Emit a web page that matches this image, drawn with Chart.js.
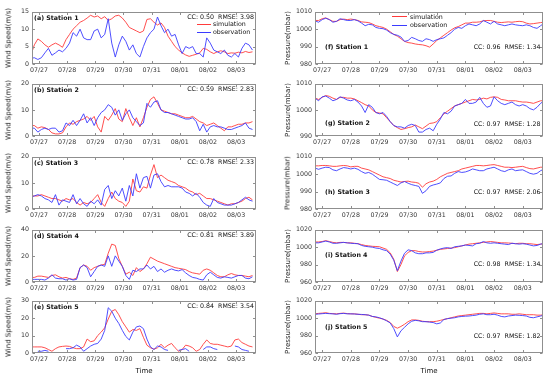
<!DOCTYPE html>
<html><head><meta charset="utf-8">
<script src="https://cdn.jsdelivr.net/npm/chart.js@4/dist/chart.umd.min.js"></script>
<style>
html,body{margin:0;padding:0;background:#fff;}
#wrap{position:relative;width:550px;height:378px;overflow:hidden;font-family:"DejaVu Sans",sans-serif;}
canvas{position:absolute;}
.t{position:absolute;white-space:pre;color:#111;font-size:6.3px;line-height:1;}
.b{font-weight:bold;}
.yt{position:absolute;white-space:pre;color:#222;font-size:7px;line-height:1;transform:translate(-50%,-50%) rotate(-90deg);}
.lg{position:absolute;height:0;border-top:1px solid;}
</style></head>
<body><div id="wrap"></div>
<script>
// ---------- data ----------
const dayHours = [0,24,48,72,96,120,144,168];
const dayLabels = ['07/27','07/28','07/29','07/30','07/31','08/01','08/02','08/03'];
// hours after 07/27 00:00
const timesL = [-7,-4,-1,2,5,8,11,14,17,20,23,26,29,32,35,38,41,44,47,50,53,56,59,62,65,68,71,74,77,80,83,86,89,92,95,98,101,104,107,110,113,116,119,122,125,128,131,134,137,140,143,146,149,152,155,158,161,164,167,170,173,176,179,182];
const timesR = [-6,-3,0,3,6,9,12,15,18,21,24,27,30,33,36,39,42,45,48,51,54,57,60,63,66,69,72,75,78,81,84,87,90,93,96,99,102,105,108,111,114,117,120,123,126,129,132,135,138,141,144,147,150,153,156,159,162,165,168,171,174,177,180,183,186];

// wind speed (m/s)
const simA = [2.5,5.5,7.2,6.5,5.5,4.8,5.5,6.0,5.5,4.8,7.0,8.5,10.0,11.0,12.0,12.5,13.2,14.0,13.5,13.8,13.0,13.6,12.5,13.0,13.8,14.0,13.2,12.0,10.5,10.0,9.5,9.0,9.5,12.8,13.0,12.0,11.2,11.8,10.5,8.0,6.5,5.0,4.0,3.2,2.6,2.2,2.5,2.8,3.2,4.5,4.2,3.5,3.0,3.5,3.8,3.5,3.0,3.2,3.1,3.4,3.2,3.6,3.3,3.5];
const obsA = [1.6,1.8,1.3,1.8,3.2,4.5,2.5,3.2,4.0,3.5,4.5,6.0,9.0,8.0,10.0,7.5,7.0,7.0,9.5,10.0,7.5,8.5,13.0,6.0,2.0,5.5,8.0,6.5,4.0,5.5,3.0,2.0,5.0,7.5,9.0,10.0,13.5,11.0,9.0,10.0,8.0,8.5,5.5,3.0,5.0,4.5,5.0,3.0,3.0,2.0,7.5,6.0,4.0,3.5,3.0,4.0,2.5,2.0,3.0,2.0,4.5,6.0,5.5,4.0];
const simB = [4.0,4.0,3.0,3.5,3.2,2.5,1.2,0.8,0.8,1.2,3.5,5.0,4.5,5.5,6.0,6.5,7.5,6.0,7.5,3.5,1.5,7.5,6.0,8.0,10.5,6.5,5.5,10.5,7.0,4.0,7.0,3.5,7.0,11.0,14.0,15.0,12.5,10.0,9.5,9.0,8.5,8.5,8.0,7.5,7.0,7.0,7.5,6.5,5.5,5.0,4.0,4.5,5.0,4.0,3.0,2.0,3.5,3.5,4.0,4.5,4.5,5.0,5.0,5.5];
const obsB = [3.0,3.0,1.5,2.5,3.0,2.5,3.0,3.0,1.5,2.0,5.0,4.0,6.0,4.0,6.0,8.5,5.0,7.0,4.0,7.0,9.0,10.0,12.0,11.0,8.0,10.0,6.0,8.5,10.0,7.0,5.5,4.0,5.0,12.5,11.0,13.0,13.5,10.0,9.0,9.0,8.5,8.0,7.5,7.0,6.5,6.5,7.0,5.5,2.0,4.5,1.5,3.5,4.0,3.5,3.5,3.0,2.5,2.5,3.0,3.5,4.0,5.0,3.0,2.5];
const simC = [5.0,5.0,5.0,5.5,5.0,4.5,4.0,4.0,3.5,3.0,4.0,3.5,4.0,2.5,1.5,2.5,2.0,2.5,4.0,5.5,2.5,1.0,4.0,6.5,4.0,3.0,2.5,1.0,3.0,11.5,7.0,6.5,8.5,8.0,13.0,17.0,12.0,13.0,12.0,11.0,10.5,10.0,9.0,8.5,8.0,7.0,6.5,5.5,6.0,5.0,4.0,4.0,3.5,3.0,2.5,2.0,1.5,2.0,2.0,2.5,3.0,4.0,4.5,3.5];
const obsC = [4.5,5.0,5.5,5.0,4.0,3.5,2.5,5.5,1.5,3.5,3.0,2.5,5.5,2.0,4.0,2.0,1.0,3.0,2.0,3.5,1.5,7.5,9.0,4.0,7.0,5.0,8.0,3.0,9.0,5.0,13.5,8.0,12.0,12.5,8.0,13.0,13.5,10.5,8.5,9.0,8.5,8.5,8.5,8.0,6.5,6.0,5.0,6.0,4.5,2.5,1.5,1.0,4.0,2.5,2.0,1.5,1.5,1.5,2.0,2.5,3.5,4.5,3.5,3.0];
const simD = [3.5,3.5,4.5,4.5,4.0,3.5,5.0,5.5,4.0,3.0,3.5,2.5,2.0,3.0,11.0,13.0,12.0,9.0,11.0,12.0,13.0,13.5,22.0,29.0,28.0,18.0,12.0,6.0,7.5,5.0,11.0,8.0,10.0,14.0,19.0,17.5,16.0,15.0,14.0,13.0,12.0,11.0,10.5,10.0,9.5,8.0,7.0,6.5,6.0,9.0,10.0,9.0,7.0,5.0,4.0,4.0,5.5,6.5,5.5,5.0,5.0,4.5,4.0,5.0];
const obsD = [2.0,2.0,2.0,2.0,1.5,3.0,5.5,3.0,2.5,2.5,1.5,2.5,1.5,2.0,11.0,13.0,11.0,4.0,8.0,12.0,13.0,12.0,20.0,12.0,20.0,16.0,12.0,5.0,2.0,9.0,8.0,10.0,10.0,13.0,10.0,12.0,8.0,10.0,7.5,9.0,10.0,9.0,8.5,9.5,7.0,5.0,3.5,3.0,2.0,1.5,5.5,7.5,5.5,3.5,3.0,4.0,3.5,3.0,4.0,5.0,5.0,3.0,2.5,4.0];
const simE = [3.5,3.5,3.5,3.5,3.0,2.0,1.0,2.5,3.5,3.8,4.0,3.8,3.0,2.5,2.5,3.5,8.0,6.5,7.0,10.0,12.0,14.5,19.5,24.0,25.0,22.0,18.0,15.0,12.0,13.5,13.0,14.0,9.0,4.5,3.0,2.2,3.0,5.0,3.0,4.5,5.5,3.0,1.0,2.0,4.5,4.0,3.0,1.0,2.0,5.0,7.5,5.5,5.0,5.0,4.5,4.0,3.5,4.0,7.5,8.0,6.0,5.0,4.0,3.5];
const obsE = [null,null,1.0,1.0,1.5,1.0,null,null,null,null,2.5,2.5,3.0,4.5,3.5,1.0,2.5,4.0,5.0,5.5,8.0,13.0,26.0,24.0,20.0,17.0,13.0,9.5,7.5,12.0,15.0,15.5,14.0,8.0,3.5,2.0,4.0,3.5,2.0,1.5,null,null,1.5,2.0,2.5,1.0,null,null,null,2.0,3.5,3.5,2.5,2.0,null,null,null,null,4.0,3.5,2.0,1.5,1.0,null];

// pressure (mbar)
const simF = [1005.0,1005.0,1006.0,1006.5,1005.5,1004.5,1004.5,1005.5,1005.8,1005.5,1005.8,1005.5,1005.0,1004.2,1004.0,1003.8,1003.0,1002.0,1001.5,1001.0,1000.0,998.5,997.0,996.0,994.5,993.0,992.3,992.0,991.5,991.2,991.0,990.5,989.7,991.5,993.5,995.0,996.5,998.0,999.5,1000.8,1001.5,1002.5,1003.5,1003.5,1004.0,1004.0,1004.2,1004.8,1005.0,1005.0,1004.5,1004.0,1003.8,1004.0,1004.2,1004.0,1004.3,1004.5,1004.3,1003.5,1003.0,1003.2,1003.5,1003.8,1004.0];
const obsF = [1004.8,1004.0,1005.5,1006.3,1005.5,1004.0,1004.5,1006.0,1005.5,1005.0,1005.0,1005.5,1004.8,1003.5,1002.0,1002.8,1002.5,1001.0,1000.5,1000.3,999.5,998.0,997.0,996.5,995.5,993.0,993.5,995.3,994.5,993.5,993.0,994.5,994.0,993.0,994.0,994.5,995.0,996.5,998.0,1000.0,1001.0,1000.5,1002.0,1003.0,1002.5,1002.0,1003.0,1005.0,1004.0,1003.0,1004.5,1003.0,1002.5,1002.0,1002.5,1003.0,1002.5,1002.2,1002.0,1002.5,1002.0,1001.0,1000.5,1002.0,1003.5];
const simG = [1004.5,1004.0,1004.8,1005.5,1005.2,1004.5,1004.0,1004.8,1004.8,1004.5,1004.5,1004.2,1003.5,1002.8,1002.0,1001.5,1000.0,999.0,998.8,998.5,997.0,995.5,994.0,993.2,992.5,992.8,993.2,993.5,994.2,993.5,992.8,993.8,994.8,995.0,995.5,997.0,998.5,999.5,1000.5,1001.5,1002.0,1002.5,1003.0,1003.5,1004.0,1003.8,1004.0,1004.5,1004.2,1004.8,1005.0,1004.8,1004.0,1003.8,1003.5,1003.5,1003.5,1003.2,1003.0,1003.0,1002.8,1002.5,1003.0,1003.5,1003.5];
const obsG = [1004.5,1003.5,1005.0,1005.3,1004.5,1003.5,1004.0,1005.0,1004.5,1003.8,1003.5,1004.0,1003.0,1001.5,999.0,1002.0,1001.0,999.0,998.5,999.0,997.5,995.5,994.0,993.5,993.5,993.0,994.0,994.5,994.0,991.5,991.5,992.5,993.0,992.0,994.5,996.5,999.0,998.5,999.5,1001.5,1002.0,1002.5,1004.0,1002.5,1002.5,1003.0,1004.8,1002.5,1001.0,1001.5,1005.0,1003.5,1002.5,1002.0,1002.5,1003.0,1002.0,1001.5,1002.0,1001.5,1000.5,1000.0,1001.0,1002.5,1003.5];
const simH = [1004.8,1004.8,1005.0,1005.0,1004.8,1004.5,1004.5,1004.8,1005.0,1004.8,1004.2,1004.5,1004.5,1003.5,1003.0,1002.5,1001.5,1000.5,999.5,998.5,998.0,997.5,996.5,996.0,995.5,995.8,996.0,995.5,995.3,994.8,992.5,994.5,995.5,996.0,997.0,998.5,999.5,1000.5,1001.0,1001.5,1002.0,1003.0,1003.5,1004.0,1004.5,1005.0,1005.0,1004.8,1005.0,1005.3,1005.5,1005.0,1004.5,1004.0,1004.0,1003.8,1004.0,1004.3,1004.5,1003.8,1003.2,1003.0,1003.5,1004.0,1004.0];
const obsH = [1003.5,1002.8,1003.5,1004.0,1003.8,1002.5,1002.0,1003.0,1003.8,1003.5,1003.0,1003.5,1002.8,1001.5,1000.5,1001.0,1000.0,998.5,997.0,996.8,996.5,995.5,994.5,993.5,995.0,995.8,994.8,994.0,993.5,993.0,989.0,990.5,993.0,993.8,994.3,995.0,997.5,998.8,999.0,1000.5,1001.5,1001.0,1001.3,1002.0,1003.0,1002.5,1002.0,1002.0,1003.0,1003.5,1004.0,1003.0,1002.0,1001.5,1002.5,1003.0,1002.0,1002.3,1002.5,1001.5,1000.5,1000.0,1000.5,1002.0,1003.0];
const simI = [1006.0,1006.0,1006.5,1007.5,1006.5,1005.5,1005.0,1005.5,1005.5,1005.0,1005.0,1004.5,1004.0,1003.0,1002.0,1001.5,1001.0,1000.8,1000.5,999.0,997.5,993.5,986.0,972.0,980.0,990.0,994.0,996.0,996.0,995.0,994.5,994.5,995.0,995.5,996.5,997.5,998.0,998.5,999.0,999.5,1000.5,1001.5,1002.5,1003.5,1004.0,1004.5,1005.0,1005.5,1006.0,1006.5,1006.0,1005.5,1005.0,1005.0,1004.8,1004.5,1004.0,1004.5,1004.5,1004.0,1004.0,1003.5,1003.0,1003.5,1004.0];
const obsI = [1005.0,1005.0,1006.0,1007.0,1006.0,1004.5,1004.5,1005.0,1005.5,1005.0,1004.5,1004.2,1004.0,1002.0,1001.0,1000.5,1000.0,999.0,998.5,997.0,996.0,992.0,985.0,973.0,984.0,993.0,997.0,996.0,993.5,992.5,992.5,993.5,993.5,994.0,996.5,998.0,999.0,999.5,998.5,1000.5,1001.0,1001.5,1002.5,1002.0,1001.5,1004.0,1004.5,1006.5,1005.0,1004.5,1005.0,1004.5,1004.0,1003.5,1003.0,1004.5,1004.0,1003.5,1004.0,1003.5,1002.5,1001.5,1002.0,1003.5,1004.5];
const simJ = [1005.0,1005.5,1005.8,1006.3,1005.5,1005.2,1005.0,1005.5,1005.8,1005.3,1005.0,1005.0,1004.5,1004.0,1004.0,1003.5,1002.0,1001.0,1000.0,999.0,997.5,995.0,990.5,988.5,990.5,993.0,996.0,998.0,998.0,997.5,996.5,996.0,996.0,996.0,996.5,997.5,998.5,999.5,1000.5,1001.5,1002.5,1003.0,1003.5,1004.0,1004.5,1005.0,1005.5,1005.5,1005.0,1005.5,1006.0,1005.5,1005.0,1005.0,1005.0,1004.5,1004.5,1005.0,1004.5,1004.0,1004.0,1004.0,1003.5,1003.5,1004.0];
const obsJ = [1004.5,1004.8,1005.2,1005.5,1005.2,1005.0,1004.5,1005.2,1005.5,1005.0,1005.0,1004.8,1004.5,1004.3,1004.0,1003.5,1002.0,1001.5,1000.5,999.0,997.0,994.5,988.0,978.5,985.5,989.5,993.5,996.5,997.5,997.0,996.0,996.0,995.5,995.0,993.5,994.5,998.5,999.5,1000.0,1000.5,1001.5,1002.0,1002.3,1002.5,1003.0,1003.5,1004.5,1005.0,1004.0,1004.0,1004.5,1003.5,1002.0,1001.5,1002.5,1003.0,1003.5,1003.3,1003.0,1002.5,1001.0,1000.5,1001.5,1002.5,1003.5];

const windTicks = [[0,5,10,15],[0,10,20],[0,10,20],[0,20,40],[0,10,20,30]];
const presTicks = [[980,990,1000,1010],[990,1000,1010],[980,990,1000,1010],[960,980,1000,1020],[960,980,1000,1020]];
const windSim = [simA,simB,simC,simD,simE];
const windObs = [obsA,obsB,obsC,obsD,obsE];
const presSim = [simF,simG,simH,simI,simJ];
const presObs = [obsF,obsG,obsH,obsI,obsJ];
const namesL = ['(a) Station 1','(b) Station 2','(c) Station 3','(d) Station 4','(e) Station 5'];
const namesR = ['(f) Station 1','(g) Station 2','(h) Station 3','(i) Station 4','(j) Station 5'];
const statsL = ['CC: 0.50  RMSE: 3.98','CC: 0.59  RMSE: 2.83','CC: 0.78  RMSE: 2.33','CC: 0.81  RMSE: 3.89','CC: 0.84  RMSE: 3.54'];
const statsR = ['CC: 0.96  RMSE: 1.34','CC: 0.97  RMSE: 1.28','CC: 0.97  RMSE: 2.06','CC: 0.98  RMSE: 1.34','CC: 0.97  RMSE: 1.82'];
const seriesNames = ['simulation','observation'];

// ---------- layout ----------
const SIM_COLOR = '#ff3b3b', OBS_COLOR = '#3b3bff';
const FONT = '"DejaVu Sans", sans-serif';
const TOPS = [11,83,156,229,300];
const H = 53, PT = 6, XH = 14;
const SIDES = {
  L:{x0:0, w:262, yw:32, padR:6, tmin:-6, tmax:185},
  R:{x0:275, w:274, yw:40, padR:6, tmin:-6, tmax:185}
};
const wrap = document.getElementById('wrap');

const framePlugin = {
  id:'frame',
  afterDatasetsDraw(chart){
    const {ctx, chartArea:a, scales} = chart;
    ctx.save();
    ctx.strokeStyle = '#8f8f8f'; ctx.lineWidth = 1;
    const L=Math.round(a.left)+0.5, R=Math.round(a.right)-0.5, T=Math.round(a.top)+0.5, B=Math.round(a.bottom)-0.5;
    ctx.strokeRect(L,T,R-L,B-T);
    ctx.beginPath();
    scales.x.ticks.forEach(t=>{const x=Math.round(scales.x.getPixelForValue(t.value))+0.5;
      ctx.moveTo(x,B); ctx.lineTo(x,B-2.5); ctx.moveTo(x,T); ctx.lineTo(x,T+2.5);});
    scales.y.ticks.forEach(t=>{const y=Math.round(scales.y.getPixelForValue(t.value))+0.5;
      ctx.moveTo(L,y); ctx.lineTo(L+2.5,y); ctx.moveTo(R,y); ctx.lineTo(R-2.5,y);});
    ctx.stroke(); ctx.restore();
  }
};

function addText(txt, x, y, cls, align){
  const d = document.createElement('div');
  d.className = 't ' + (cls||'');
  d.textContent = txt;
  d.style.left = x + 'px'; d.style.top = y + 'px';
  d.style.transform = align==='right' ? 'translate(-100%,-50%)' : (align==='center' ? 'translate(-50%,-50%)' : 'translateY(-50%)');
  wrap.appendChild(d);
}
function addYTitle(txt, x, y){
  const d = document.createElement('div');
  d.className = 'yt'; d.textContent = txt;
  d.style.left = x+'px'; d.style.top = y+'px';
  wrap.appendChild(d);
}
function addLegend(x1, x2, y, txtX){
  [SIM_COLOR, OBS_COLOR].forEach((c,i)=>{
    const yy = y + i*8.3;
    const l = document.createElement('div');
    l.className='lg'; l.style.borderColor=c;
    l.style.left=x1+'px'; l.style.width=(x2-x1)+'px'; l.style.top=(yy-0.5)+'px';
    wrap.appendChild(l);
    addText(seriesNames[i], txtX, yy, '', 'left');
  });
}

function makePanel(side, k, times, sim, obs, yTicks){
  const S = SIDES[side];
  const top = TOPS[k] - PT;
  const hgt = PT + H + XH;
  const cv = document.createElement('canvas');
  cv.width = S.w; cv.height = hgt;
  cv.style.left = S.x0+'px'; cv.style.top = top+'px';
  cv.style.width = S.w+'px'; cv.style.height = hgt+'px';
  wrap.appendChild(cv);
  const mk = (arr)=> times.map((t,i)=>({x:t, y:arr[i]}));
  new Chart(cv.getContext('2d'), {
    type:'line',
    data:{datasets:[
      {label:seriesNames[1], data:mk(obs), borderColor:OBS_COLOR, borderWidth:0.9, pointRadius:0, tension:0, spanGaps:false},
      {label:seriesNames[0], data:mk(sim), borderColor:SIM_COLOR, borderWidth:0.9, pointRadius:0, tension:0, spanGaps:false}
    ]},
    options:{
      responsive:false, animation:false, devicePixelRatio:1,
      layout:{padding:{top:PT, right:S.padR, left:0, bottom:0}},
      plugins:{legend:{display:false}, tooltip:{enabled:false}},
      scales:{
        x:{type:'linear', min:S.tmin, max:S.tmax,
          afterBuildTicks:(s)=>{s.ticks = dayHours.map(v=>({value:v}));},
          afterFit:(s)=>{s.height = XH;},
          grid:{display:false, drawTicks:false}, border:{display:false},
          ticks:{autoSkip:false, maxRotation:0, padding:3, color:'#333', font:{size:6.3, family:FONT},
            callback:(v)=>dayLabels[dayHours.indexOf(v)]}
        },
        y:{type:'linear', min:yTicks[0], max:yTicks[yTicks.length-1],
          afterBuildTicks:(s)=>{s.ticks = yTicks.map(v=>({value:v}));},
          afterFit:(s)=>{s.width = S.yw;},
          grid:{display:false, drawTicks:false}, border:{display:false},
          ticks:{padding:3, color:'#333', font:{size:6.3, family:FONT}, callback:(v)=>String(v)}
        }
      }
    },
    plugins:[framePlugin]
  });
}

const labRelR = [36,40,36,26,27];
const ccRelR = [36,41,36,35,36];
for(let k=0;k<5;k++){
  makePanel('L', k, timesL, windSim[k], windObs[k], windTicks[k]);
  makePanel('R', k, timesR, presSim[k], presObs[k], presTicks[k]);
  const T = TOPS[k];
  addText(namesL[k], 34, T+6.5, 'b', 'left');
  addText(statsL[k], 254, T+5.5, '', 'right');
  addYTitle('Wind Speed(m/s)', 9, T+H/2);
  addText(namesR[k], 325, T+labRelR[k], 'b', 'left');
  addText(statsR[k], 540.5, T+ccRelR[k], '', 'right');
  addYTitle('Pressure(mbar)', 288, T+H/2);
}
addLegend(197, 211, 24, 213);
addLegend(392, 407, 16.7, 410);
const tl = document.createElement('div'); tl.className='t'; tl.style.fontSize='7px';
tl.textContent='Time'; tl.style.left='144px'; tl.style.top='371px'; tl.style.transform='translate(-50%,-50%)'; wrap.appendChild(tl);
const tr = document.createElement('div'); tr.className='t'; tr.style.fontSize='7px';
tr.textContent='Time'; tr.style.left='429px'; tr.style.top='371px'; tr.style.transform='translate(-50%,-50%)'; wrap.appendChild(tr);
</script>
</body></html>
